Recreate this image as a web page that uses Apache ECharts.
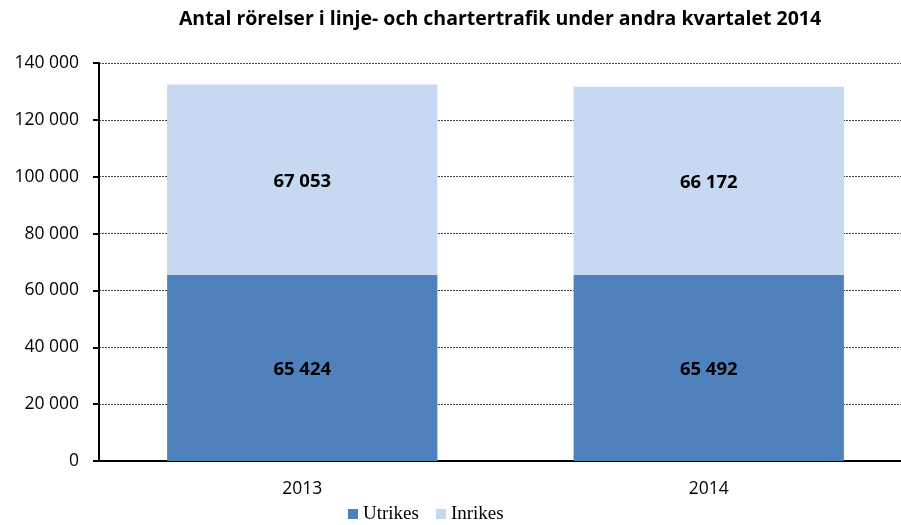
<!DOCTYPE html>
<html><head><meta charset="utf-8">
<script src="https://cdn.jsdelivr.net/npm/echarts@6/dist/echarts.min.js"></script>
<style>html,body{margin:0;padding:0;background:#fff;overflow:hidden}#c{width:912px;height:525px}</style>
</head><body><div id="c"></div>
<script>
const categories = ['2013', '2014'];
const utrikes = [65424, 65492];
const inrikes = [67053, 66172];
const yTicks = [0, 20000, 40000, 60000, 80000, 100000, 120000, 140000];

function fmt(v){ return String(v).replace(/\B(?=(\d{3})+(?!\d))/g, ' '); }

const chart = echarts.init(document.getElementById('c'), null, {renderer:'canvas'});
const labelStyle = {show:true, position:'inside', offset:[0,2], color:'#000', fontWeight:'bold', fontSize:18.5, fontFamily:'Open Sans', formatter:p=>fmt(p.value)};
chart.setOption({
  animation:false,
  title:{text:'Antal rörelser i linje- och chartertrafik under andra kvartalet 2014', left:495, top:4, textAlign:'center',
    textStyle:{fontFamily:'Open Sans', fontWeight:'bold', fontSize:19.5, color:'#000'}},
  grid:{left:99, right:0, top:63, bottom:64, containLabel:false},
  legend:{data:['Utrikes','Inrikes'], top:504, left:343, padding:[0,5], itemWidth:10, itemHeight:10, itemGap:17, icon:'rect',
    textStyle:{fontFamily:'Liberation Serif', fontSize:19, color:'#000', lineHeight:20}},
  xAxis:{type:'category', data:categories, boundaryGap:true,
    axisLine:{lineStyle:{color:'#000', width:2}}, axisTick:{show:false},
    axisLabel:{fontFamily:'Open Sans', fontSize:17.5, color:'#000', margin:19}},
  yAxis:{type:'value', min:yTicks[0], max:yTicks[yTicks.length-1], interval:20000,
    axisLine:{show:true, lineStyle:{color:'#000', width:2}},
    axisTick:{show:true, length:6, lineStyle:{color:'#000', width:2}},
    axisLabel:{fontFamily:'Open Sans', fontSize:17.5, color:'#000', margin:20, formatter:v=>fmt(v)},
    splitLine:{show:true, lineStyle:{color:'#444', type:[2,1], width:1}}},
  series:[
    {name:'Utrikes', type:'bar', stack:'a', data:utrikes, barWidth:'66.5%', itemStyle:{color:'#4f81bd'}, label:labelStyle},
    {name:'Inrikes', type:'bar', stack:'a', data:inrikes, barWidth:'66.5%', itemStyle:{color:'#c6d9f1'}, label:labelStyle}
  ]
});
</script></body></html>
